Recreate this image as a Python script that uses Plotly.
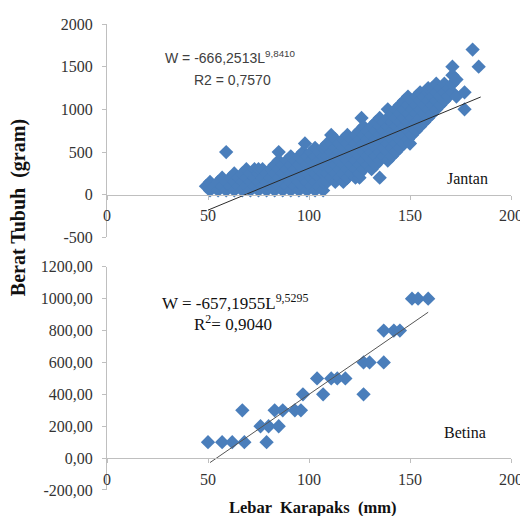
import plotly.graph_objects as go

# ---------------- data: Jantan (male) ----------------
jantan_lebar = [
    49,
    51, 51,
    53,
    55, 55,
    57, 57,
    59, 59, 59,
    61, 61,
    63, 63, 63,
    65, 65,
    67, 67, 67,
    69, 69, 69,
    71, 71, 71,
    73, 73, 73,
    75, 75, 75, 75,
    77, 77, 77,
    79, 79, 79,
    81, 81, 81,
    83, 83, 83, 83,
    85, 85, 85, 85, 85,
    87, 87, 87, 87,
    89, 89, 89, 89,
    91, 91, 91, 91, 91,
    93, 93, 93, 93,
    95, 95, 95, 95, 95,
    97, 97, 97, 97, 97,
    98,
    99, 99, 99, 99, 99,
    101, 101, 101, 101, 101,
    103, 103, 103, 103, 103, 103,
    105, 105, 105, 105, 105,
    107, 107, 107, 107, 107, 107,
    109, 109, 109, 109, 109, 109,
    111, 111, 111, 111, 111, 111,
    113, 113, 113, 113, 113, 113,
    115, 115, 115, 115, 115,
    117, 117, 117, 117, 117, 117,
    119, 119, 119, 119, 119, 119, 119,
    121, 121, 121, 121, 121,
    123, 123, 123, 123, 123, 123,
    125, 125, 125, 125, 125, 125, 125,
    126,
    127, 127, 127, 127, 127, 127,
    129, 129, 129, 129, 129,
    131, 131, 131, 131, 131, 131,
    133, 133, 133, 133, 133, 133,
    135, 135, 135, 135, 135, 135, 135,
    137, 137, 137, 137, 137,
    139, 139, 139, 139, 139, 139, 139,
    141, 141, 141, 141, 141, 141,
    143, 143, 143, 143, 143, 143,
    145, 145, 145, 145, 145, 145,
    147, 147, 147, 147, 147, 147,
    149, 149, 149, 149, 149, 149,
    150,
    151, 151, 151, 151, 151,
    153, 153, 153, 153, 153,
    155, 155, 155, 155, 155,
    157, 157, 157, 157,
    159, 159, 159, 159, 159,
    161, 161, 161, 161,
    163, 163, 163, 163,
    165, 165, 165,
    167, 167, 167,
    169, 169,
    171, 171, 171, 171,
    173, 173,
    177, 177,
    181,
    184,
]
jantan_berat = [
    100,
    50, 150,
    100,
    50, 150,
    100, 200,
    50, 150, 500,
    100, 200,
    50, 150, 250,
    100, 200,
    50, 150, 250,
    100, 200, 300,
    50, 150, 250,
    100, 200, 300,
    50, 150, 250, 300,
    100, 200, 300,
    50, 150, 250,
    100, 200, 300,
    50, 150, 250, 350,
    100, 200, 300, 400, 500,
    50, 150, 250, 350,
    100, 200, 300, 400,
    50, 150, 250, 350, 450,
    100, 200, 300, 400,
    50, 150, 250, 350, 450,
    100, 200, 300, 400, 500,
    600,
    50, 150, 250, 350, 450,
    100, 200, 300, 400, 500,
    50, 150, 250, 350, 450, 550,
    100, 200, 300, 400, 500,
    50, 150, 250, 350, 450, 550,
    150, 250, 350, 450, 550, 600,
    200, 300, 400, 500, 600, 700,
    150, 250, 350, 450, 550, 650,
    200, 300, 400, 500, 600,
    150, 250, 350, 450, 550, 650,
    200, 300, 400, 500, 600, 700, 200,
    250, 350, 450, 550, 650,
    200, 300, 400, 500, 600, 700,
    200, 250, 350, 450, 550, 650, 750,
    900,
    300, 400, 500, 600, 700, 800,
    350, 450, 550, 650, 750,
    300, 400, 500, 600, 700, 800,
    350, 450, 550, 650, 750, 850,
    200, 400, 500, 600, 700, 800, 900,
    450, 550, 650, 750, 850,
    400, 500, 600, 700, 800, 900, 1000,
    450, 550, 650, 750, 850, 950,
    500, 600, 700, 800, 900, 1000,
    550, 650, 750, 850, 950, 1050,
    600, 700, 800, 900, 1000, 1100,
    650, 750, 850, 950, 1050, 1150,
    600,
    700, 800, 900, 1000, 1100,
    750, 850, 950, 1050, 1150,
    800, 900, 1000, 1100, 1200,
    850, 950, 1050, 1150,
    900, 1000, 1100, 1200, 1250,
    950, 1050, 1150, 1250,
    1000, 1100, 1200, 1300,
    1050, 1150, 1250,
    1100, 1200, 1300,
    1150, 1250,
    1200, 1300, 1400, 1500,
    1150, 1350,
    1000, 1200,
    1700,
    1500,
]
jantan_trend_x = [50, 185]
jantan_trend_y = [-180, 1145]

# ---------------- data: Betina (female) ----------------
betina_lebar = [50, 57, 62, 68, 67, 76, 79, 80, 85, 83, 87, 93, 96, 97,
                104, 107, 111, 114, 118, 127, 127, 130, 137, 137, 142, 145,
                151, 154, 159]
betina_berat = [100, 100, 100, 100, 300, 200, 100, 200, 200, 300, 300, 300,
                300, 400, 500, 400, 500, 500, 500, 400, 600, 600, 600, 800,
                800, 800, 1000, 1000, 1000]
betina_trend_x = [51, 159]
betina_trend_y = [-28, 915]

# ---------------- tick labels ----------------
x_ticks = [0, 50, 100, 150, 200]
x_ticklabels = ["0", "50", "100", "150", "200"]
y1_ticks = [-500, 0, 500, 1000, 1500, 2000]
y1_ticklabels = ["-500", "0", "500", "1000", "1500", "2000"]
y2_ticks = [-200, 0, 200, 400, 600, 800, 1000, 1200]
y2_ticklabels = ["-200,00", "0,00", "200,00", "400,00", "600,00", "800,00",
                 "1000,00", "1200,00"]

BLUE = "#4A7EBB"
AXIS = "#BFBFBF"
SERIF = "Liberation Serif, Times New Roman, serif"
SANS = "Liberation Sans, Arial, sans-serif"

fig = go.Figure()
marker = dict(symbol="diamond", size=11, color=BLUE, line=dict(width=0))
fig.add_trace(go.Scatter(x=jantan_lebar, y=jantan_berat, mode="markers",
                         marker=marker, xaxis="x", yaxis="y", showlegend=False))
fig.add_trace(go.Scatter(x=jantan_trend_x, y=jantan_trend_y, mode="lines",
                         line=dict(color="#2b2b2b", width=1), xaxis="x", yaxis="y",
                         showlegend=False))
fig.add_trace(go.Scatter(x=betina_lebar, y=betina_berat, mode="markers",
                         marker=marker, xaxis="x2", yaxis="y2", showlegend=False))
fig.add_trace(go.Scatter(x=betina_trend_x, y=betina_trend_y, mode="lines",
                         line=dict(color="#555555", width=1), xaxis="x2", yaxis="y2",
                         showlegend=False))

tickfont = dict(family=SERIF, size=16, color="#333333")
xcommon = dict(range=[0, 200], tickvals=x_ticks, ticktext=x_ticklabels,
               showline=True, linecolor=AXIS, linewidth=1, ticks="outside",
               ticklen=4, tickcolor=AXIS, showgrid=False, zeroline=False,
               tickfont=tickfont, anchor="free", domain=[0, 1],
               ticklabelstandoff=2, automargin=False)
ycommon = dict(showline=True, linecolor=AXIS, linewidth=1, ticks="outside",
               ticklen=4, tickcolor=AXIS, showgrid=False, zeroline=False,
               tickfont=tickfont, ticklabelstandoff=6, automargin=False)

# the page adds an 8px body margin, so the plot area is offset by -8px here
fig.update_layout(
    width=528, height=516, autosize=False,
    margin=dict(l=99, r=25, t=16, b=34),
    plot_bgcolor="white", paper_bgcolor="white",
    xaxis=dict(**xcommon, position=0.634),
    yaxis=dict(**ycommon, domain=[0.542, 1.0], range=[-500, 2000],
               tickvals=y1_ticks, ticktext=y1_ticklabels, anchor="x"),
    xaxis2=dict(**xcommon, position=0.068),
    yaxis2=dict(**ycommon, domain=[0, 0.479], range=[-200, 1200],
                tickvals=y2_ticks, ticktext=y2_ticklabels, anchor="x2"),
)

ann = []
ann.append(dict(x=27.5, y=1614, xref="x", yref="y", xanchor="left", yanchor="middle",
                text="W = -666,2513L<sup>9,8410</sup>", showarrow=False,
                font=dict(family=SANS, size=14, color="#404040")))
ann.append(dict(x=42.3, y=1344, xref="x", yref="y", xanchor="left", yanchor="middle",
                text="R2 = 0,7570", showarrow=False,
                font=dict(family=SANS, size=14, color="#404040")))
ann.append(dict(x=167.5, y=194, xref="x", yref="y", xanchor="left", yanchor="middle",
                text="Jantan", showarrow=False,
                font=dict(family=SERIF, size=16, color="#111111")))
ann.append(dict(x=26, y=980, xref="x2", yref="y2", xanchor="left", yanchor="middle",
                text="W = -657,1955L<sup>9,5295</sup>", showarrow=False,
                font=dict(family=SERIF, size=17, color="#111111")))
ann.append(dict(x=42.3, y=845, xref="x2", yref="y2", xanchor="left", yanchor="middle",
                text="R<sup>2</sup>= 0,9040", showarrow=False,
                font=dict(family=SERIF, size=17, color="#111111")))
ann.append(dict(x=166, y=160, xref="x2", yref="y2", xanchor="left", yanchor="middle",
                text="Betina", showarrow=False,
                font=dict(family=SERIF, size=16, color="#111111")))
ann.append(dict(x=-0.22, y=0.605, xref="paper", yref="paper", xanchor="center",
                yanchor="middle", textangle=-90, text="<b>Berat Tubuh  (gram)</b>",
                showarrow=False, font=dict(family=SERIF, size=20, color="#111111")))
ann.append(dict(x=0.509, y=-0.0386, xref="paper", yref="paper", xanchor="center",
                yanchor="middle", text="<b>Lebar  Karapaks  (mm)</b>",
                showarrow=False, font=dict(family=SERIF, size=16.5, color="#111111")))
fig.update_layout(annotations=ann)

fig.write_html("out.html")
